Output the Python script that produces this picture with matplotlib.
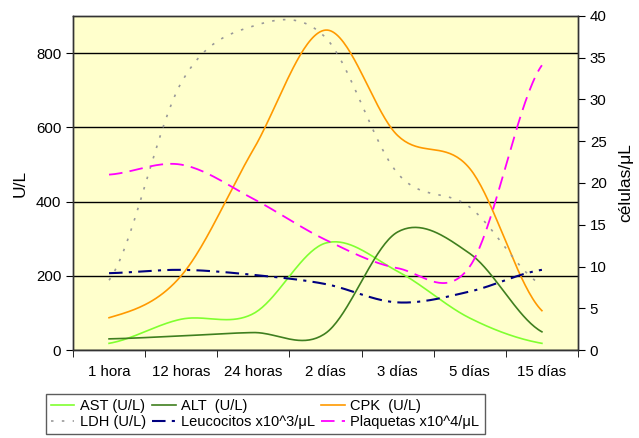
import numpy as np
import matplotlib
matplotlib.use("Agg")
import matplotlib.pyplot as plt

plt.rcParams['font.family'] = ['Liberation Sans', 'DejaVu Sans']

categories = ["1 hora", "12 horas", "24 horas", "2 días", "3 días", "5 días", "15 días"]

# Left axis (U/L)
ast = [18, 83, 98, 288, 212, 86, 18]
alt = [30, 38, 47, 45, 318, 260, 49]
cpk = [87, 200, 540, 862, 578, 489, 106]
ldh = [188, 720, 873, 842, 476, 385, 175]
# Right axis (células/μL)
leucocitos = [9.2, 9.6, 9.0, 7.9, 5.7, 7.0, 9.6]
plaquetas = [21.0, 22.2, 18.1, 13.2, 9.8, 10.0, 34.1]


def smooth(y, n=40):
    y = np.asarray(y, float)
    x = np.arange(len(y), dtype=float)
    m = np.empty_like(y)
    m[1:-1] = (y[2:] - y[:-2]) / 2.0
    m[0] = (y[1] - y[0]) / 2.0
    m[-1] = (y[-1] - y[-2]) / 2.0
    xs, ys = [], []
    for i in range(len(y) - 1):
        t = np.linspace(0, 1, n, endpoint=(i == len(y) - 2))
        h00 = 2 * t**3 - 3 * t**2 + 1
        h10 = t**3 - 2 * t**2 + t
        h01 = -2 * t**3 + 3 * t**2
        h11 = t**3 - t**2
        xs.append(x[i] + t)
        ys.append(h00 * y[i] + h10 * m[i] + h01 * y[i + 1] + h11 * m[i + 1])
    return np.concatenate(xs), np.concatenate(ys)


fig = plt.figure(figsize=(6.39, 4.38), dpi=100)
ax = fig.add_axes([0.1142, 0.2009, 0.7903, 0.7626])
ax2 = ax.twinx()
ax.set_facecolor('#FFFFCC')
ax.set_zorder(ax2.get_zorder() - 1)
ax2.patch.set_visible(False)

l_ast, = ax.plot(*smooth(ast), color='#80FF30', lw=1.2, label='AST (U/L)')
l_alt, = ax.plot(*smooth(alt), color='#3F7F1F', lw=1.2, label='ALT  (U/L)')
l_cpk, = ax.plot(*smooth(cpk), color='#FF9900', lw=1.2, label='CPK  (U/L)')
l_ldh, = ax.plot(*smooth(ldh), color='#999999', lw=1.2, ls=(0, (1.5, 5)), label='LDH (U/L)')
l_leu, = ax2.plot(*smooth(leucocitos), color='#000080', lw=1.5, ls=(0, (6.5, 3, 1.5, 3)), label='Leucocitos x10^3/μL')
l_pla, = ax2.plot(*smooth(plaquetas), color='#FF00FF', lw=1.3, ls=(0, (7.5, 4)), label='Plaquetas x10^4/μL')

ax.set_xlim(-0.5, len(categories) - 0.5)
ax.set_ylim(0, 900)
ax2.set_ylim(0, 40)
ax.set_yticks([0, 200, 400, 600, 800])
ax2.set_yticks(range(0, 41, 5))
ax.yaxis.grid(True, color='black', lw=1)
ax.set_axisbelow(True)

ax.set_xticks(range(len(categories)))
ax.set_xticklabels(categories)
ax.set_xticks(np.arange(-0.5, len(categories), 1.0), minor=True)
ax.tick_params(axis='x', which='major', length=0, pad=11, labelsize=10.8)
ax.tick_params(axis='x', which='minor', length=5, direction='out', color='black')
ax.tick_params(axis='y', length=5, direction='out', labelsize=10.8, color='black')
ax2.tick_params(axis='y', length=5, direction='out', labelsize=10.8, color='black')

for a in (ax, ax2):
    for s in a.spines.values():
        s.set_color('#333333')
        s.set_linewidth(1.0)

ax.set_ylabel('U/L', fontsize=12.5, labelpad=6)
ax2.set_ylabel('células/μL', fontsize=12.5, labelpad=8)

# order so rows read: AST, ALT, CPK / LDH, Leucocitos, Plaquetas
handles = [l_ast, l_ldh, l_alt, l_leu, l_cpk, l_pla]
leg = fig.legend(handles=handles, loc='upper left', bbox_to_anchor=(0.072, 0.1005),
                 ncol=3, fontsize=10.5, frameon=True, fancybox=False,
                 edgecolor='#333333', handlelength=1.6, handletextpad=0.4,
                 columnspacing=0.4, labelspacing=0.15, borderpad=0.35,
                 borderaxespad=0)
leg.get_frame().set_linewidth(1.0)

fig.savefig('out.png', dpi=100)
